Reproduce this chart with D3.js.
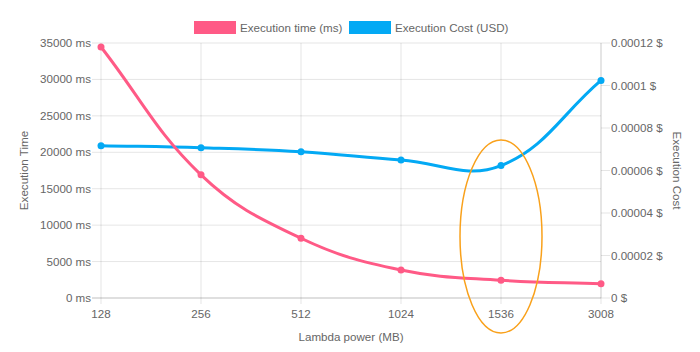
<!DOCTYPE html>
<html>
<head>
<meta charset="utf-8">
<script src="https://cdn.jsdelivr.net/npm/d3@7"></script>
<style>
  body { margin: 0; background: #fff; }
  text { font-family: "Liberation Sans", Arial, sans-serif; fill: #666; }
</style>
</head>
<body>
<div id="chart"></div>
<script>
var powers = ["128", "256", "512", "1024", "1536", "3008"];
var execTime = [34450, 16900, 8200, 3850, 2430, 1970];
var execCost = [0.0000717, 0.0000707, 0.0000688, 0.0000649, 0.0000623, 0.0001024];
var timeTicks = [0, 5000, 10000, 15000, 20000, 25000, 30000, 35000];
var costTicks = [0, 0.00002, 0.00004, 0.00006, 0.00008, 0.0001, 0.00012];

var width = 700, height = 352;
var margin = {top: 43, right: 99, bottom: 54, left: 101};
var fontSize = "11.6px";

var svg = d3.select("#chart")
    .append("svg")
    .attr("width", width)
    .attr("height", height);

var x = d3.scalePoint()
    .domain(powers)
    .range([margin.left, width - margin.right]);

var yTime = d3.scaleLinear()
    .domain([0, 35000])
    .range([height - margin.bottom, margin.top]);

var yCost = d3.scaleLinear()
    .domain([0, 0.00012])
    .range([height - margin.bottom, margin.top]);

var plotTop = margin.top, plotBottom = height - margin.bottom;
var plotLeft = margin.left, plotRight = width - margin.right;

// gridlines
var grid = svg.append("g");
grid.selectAll(".vline")
    .data(powers)
    .enter()
    .append("line")
    .attr("x1", function(d) { return x(d); })
    .attr("x2", function(d) { return x(d); })
    .attr("y1", plotTop)
    .attr("y2", plotBottom + 6)
    .style("stroke", "rgba(0,0,0,0.1)")
    .style("stroke-width", 1);

grid.selectAll(".hline")
    .data(timeTicks)
    .enter()
    .append("line")
    .attr("x1", plotLeft - 9)
    .attr("x2", plotRight)
    .attr("y1", function(d) { return yTime(d); })
    .attr("y2", function(d) { return yTime(d); })
    .style("stroke", function(d) { return d === 0 ? "rgba(0,0,0,0.25)" : "rgba(0,0,0,0.1)"; })
    .style("stroke-width", 1);

// right axis line + ticks
grid.append("line")
    .attr("x1", plotRight).attr("x2", plotRight)
    .attr("y1", plotTop).attr("y2", plotBottom)
    .style("stroke", "rgba(0,0,0,0.1)");

grid.selectAll(".rtick")
    .data(costTicks)
    .enter()
    .append("line")
    .attr("x1", plotRight)
    .attr("x2", plotRight + 9)
    .attr("y1", function(d) { return yCost(d); })
    .attr("y2", function(d) { return yCost(d); })
    .style("stroke", "rgba(0,0,0,0.1)");

// tick labels
svg.append("g").selectAll("text")
    .data(timeTicks)
    .enter()
    .append("text")
    .attr("x", plotLeft - 10)
    .attr("y", function(d) { return yTime(d); })
    .attr("dy", "0.35em")
    .attr("text-anchor", "end")
    .style("font-size", fontSize)
    .text(function(d) { return d + " ms"; });

svg.append("g").selectAll("text")
    .data(costTicks)
    .enter()
    .append("text")
    .attr("x", plotRight + 10)
    .attr("y", function(d) { return yCost(d); })
    .attr("dy", "0.35em")
    .attr("text-anchor", "start")
    .style("font-size", fontSize)
    .text(function(d) { return (+d.toFixed(5)) + " $"; });

svg.append("g").selectAll("text")
    .data(powers)
    .enter()
    .append("text")
    .attr("x", function(d) { return x(d); })
    .attr("y", plotBottom + 20)
    .attr("text-anchor", "middle")
    .style("font-size", fontSize)
    .text(function(d) { return d; });

// axis titles
svg.append("text")
    .attr("x", (plotLeft + plotRight) / 2)
    .attr("y", plotBottom + 43)
    .attr("text-anchor", "middle")
    .style("font-size", fontSize)
    .text("Lambda power (MB)");

svg.append("text")
    .attr("transform", "translate(28," + ((plotTop + plotBottom) / 2) + ") rotate(-90)")
    .attr("text-anchor", "middle")
    .style("font-size", fontSize)
    .text("Execution Time");

svg.append("text")
    .attr("transform", "translate(673," + ((plotTop + plotBottom) / 2) + ") rotate(90)")
    .attr("text-anchor", "middle")
    .style("font-size", fontSize)
    .text("Execution Cost");

// chart.js-like bezier spline (tension 0.4)
function splinePath(pts, t) {
    var p = d3.path();
    var cps = pts.map(function(cur, i) {
        var prev = pts[i - 1] || cur, next = pts[i + 1] || cur;
        var d01 = Math.hypot(cur[0] - prev[0], cur[1] - prev[1]);
        var d12 = Math.hypot(next[0] - cur[0], next[1] - cur[1]);
        var s01 = d01 / (d01 + d12) || 0, s12 = d12 / (d01 + d12) || 0;
        var fa = t * s01, fb = t * s12;
        return {
            prev: [cur[0] - fa * (next[0] - prev[0]), cur[1] - fa * (next[1] - prev[1])],
            next: [cur[0] + fb * (next[0] - prev[0]), cur[1] + fb * (next[1] - prev[1])]
        };
    });
    p.moveTo(pts[0][0], pts[0][1]);
    for (var i = 1; i < pts.length; i++) {
        p.bezierCurveTo(cps[i - 1].next[0], cps[i - 1].next[1], cps[i].prev[0], cps[i].prev[1], pts[i][0], pts[i][1]);
    }
    return p.toString();
}

function drawSeries(values, yScale, color) {
    var pts = values.map(function(v, i) { return [x(powers[i]), yScale(v)]; });
    svg.append("path")
        .attr("d", splinePath(pts, 0.4))
        .style("fill", "none")
        .style("stroke", color)
        .style("stroke-width", 3);
    svg.append("g").selectAll("circle")
        .data(values)
        .enter()
        .append("circle")
        .attr("cx", function(d, i) { return x(powers[i]); })
        .attr("cy", function(d) { return yScale(d); })
        .attr("r", 3.5)
        .style("fill", color);
}

drawSeries(execCost, yCost, "#03a9f4");
drawSeries(execTime, yTime, "#ff5a86");

// annotation ellipse around 1536
svg.append("ellipse")
    .attr("cx", x("1536"))
    .attr("cy", yTime(8450))
    .attr("rx", 41)
    .attr("ry", 96.5)
    .style("fill", "none")
    .style("stroke", "#f9a11b")
    .style("stroke-width", 1.5);

// legend
var legendItems = [
    {label: "Execution time (ms)", color: "#ff5a86", x: 194},
    {label: "Execution Cost (USD)", color: "#03a9f4", x: 349}
];
var legend = svg.append("g").selectAll("g")
    .data(legendItems)
    .enter()
    .append("g")
    .attr("transform", function(d) { return "translate(" + d.x + ",21)"; });
legend.append("rect")
    .attr("width", 42)
    .attr("height", 13)
    .style("fill", function(d) { return d.color; });
legend.append("text")
    .attr("x", 46)
    .attr("y", 6.5)
    .attr("dy", "0.35em")
    .style("font-size", fontSize)
    .text(function(d) { return d.label; });
</script>
</body>
</html>
